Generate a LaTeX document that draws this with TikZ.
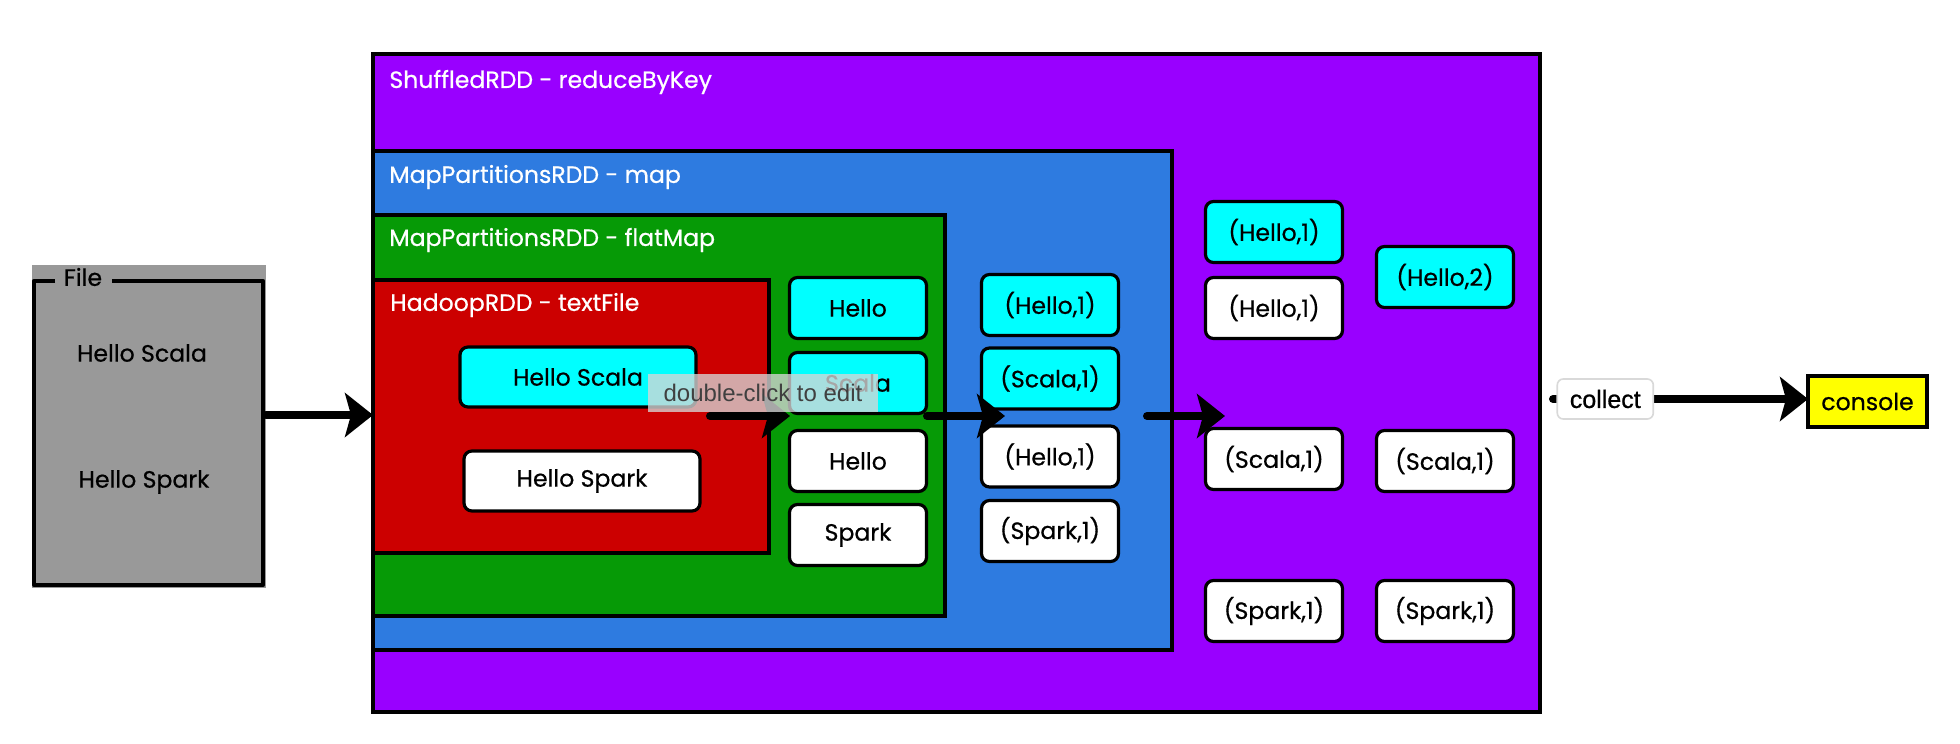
\documentclass[tikz,border=0pt]{standalone}
\usepackage{fontspec}
\setmainfont{Poppins}[UprightFeatures={FakeBold=0.6}]
\newfontfamily\tipfont{Liberation Sans}
\newfontfamily\lblfont{Liberation Sans}[UprightFeatures={FakeBold=0.8}]
\usetikzlibrary{arrows.meta,fit}
\definecolor{purp}{HTML}{9900FF}
\definecolor{blu}{HTML}{2E7BE0}
\definecolor{grn}{HTML}{069A06}
\definecolor{rd}{HTML}{CC0000}
\definecolor{cyn}{HTML}{00FFFF}
\definecolor{filegray}{HTML}{999999}
\definecolor{ylw}{HTML}{FFFF00}
\definecolor{tipgray}{HTML}{D6D6D6}
\definecolor{tiptext}{HTML}{404040}
\begin{document}
\begin{tikzpicture}[x=0.5pt,y=-0.5pt,
  every node/.style={font=\fontsize{11.8pt}{14pt}\selectfont},
  container/.style={draw=black, line width=1.6pt, inner sep=0pt},
  ctitle/.style={text=white, anchor=west, inner sep=0pt},
  cellbox/.style={draw=black, line width=1.6pt, rounded corners=4pt, inner sep=0pt,
    minimum width=68.5pt, minimum height=30.5pt, fill=white},
  widebox/.style={cellbox, minimum width=118pt, minimum height=30pt},
  hot/.style={fill=cyn},
  arrow/.style={line width=4pt, line cap=round, -{Stealth[length=14pt,width=22pt,inset=3pt]}},
  tooltip/.style={fill=tipgray, fill opacity=0.78, text opacity=1, text=tiptext,
    minimum width=115pt, minimum height=19pt, inner sep=0pt,
    font=\tipfont\fontsize{12pt}{14pt}\selectfont},
  lbl/.style={fill=white, draw=black!15, line width=0.8pt, rounded corners=3pt,
    minimum width=48pt, minimum height=20pt, inner sep=0pt,
    font=\lblfont\fontsize{12.5pt}{14pt}\selectfont}
]
\useasboundingbox (0,0) rectangle (1960,744);
\fill[white] (0,0) rectangle (1960,744);

% File box
\coordinate (f1) at (32,265); \coordinate (f2) at (266,588);
\node[fit=(f1)(f2), inner sep=0pt, fill=filegray] (file) {};
\draw[line width=2.2pt, line join=round] (55,281) -- (34,281) -- (34,585) -- (263,585) -- (263,281) -- (112,281);
\node[inner sep=0pt] (filetitle) at (83,277) {File};
\node (fl1) at (142,353) {Hello Scala};
\node (fl2) at (144,482) {Hello Spark};

% Containers
\coordinate (s1) at (373,54);  \coordinate (s2) at (1540,712);
\node[container, fill=purp, fit=(s1)(s2)] (shuffled) {};
\coordinate (b1) at (373,151); \coordinate (b2) at (1172,650);
\node[container, fill=blu, fit=(b1)(b2)] (map) {};
\coordinate (g1) at (373,215); \coordinate (g2) at (945,616);
\node[container, fill=grn, fit=(g1)(g2)] (flatmap) {};
\coordinate (r1) at (373,280); \coordinate (r2) at (769,553);
\node[container, fill=rd, fit=(r1)(r2)] (hadoop) {};

\node[ctitle] (tS) at (389,82)  {ShuffledRDD - reduceByKey};
\node[ctitle] (tM) at (389,177) {MapPartitionsRDD - map};
\node[ctitle] (tF) at (389,240) {MapPartitionsRDD - flatMap};
\node[ctitle] (tH) at (390,305) {HadoopRDD - textFile};

% HadoopRDD cells
\node[widebox, hot] (h1) at (578,377) {Hello Scala};
\node[widebox] (h2) at (582,481) {Hello Spark};

% flatMap cells
\node[cellbox, hot] (fm1) at (858,308) {Hello};
\node[cellbox, hot] (fm2) at (858,383) {Scala};
\node[cellbox] (fm3) at (858,461) {Hello};
\node[cellbox] (fm4) at (858,535) {Spark};

% map cells
\node[cellbox, hot] (m1) at (1050,305) {(Hello,1)};
\node[cellbox, hot] (m2) at (1050,378.5) {(Scala,1)};
\node[cellbox] (m3) at (1050,456.5) {(Hello,1)};
\node[cellbox] (m4) at (1050,531) {(Spark,1)};

% shuffled cells
\node[cellbox, hot] (sa1) at (1274,232) {(Hello,1)};
\node[cellbox] (sa2) at (1274,308) {(Hello,1)};
\node[cellbox] (sa3) at (1274,459) {(Scala,1)};
\node[cellbox] (sa4) at (1274,611) {(Spark,1)};
\node[cellbox, hot] (sb1) at (1445,277) {(Hello,2)};
\node[cellbox] (sb2) at (1445,461) {(Scala,1)};
\node[cellbox] (sb3) at (1445,611) {(Spark,1)};

% console
\node[draw=black, line width=2.2pt, fill=ylw, minimum width=59.5pt, minimum height=25.5pt, inner sep=0pt] (console) at (1867.5,401.5) {console};

% arrows
\coordinate (fileOut) at (266,415);   \coordinate (hadoopIn) at (373,415);
\coordinate (hadoopOut) at (710,416); \coordinate (flatIn) at (790,416);
\coordinate (flatOut) at (927,416);   \coordinate (mapIn) at (1005,416);
\coordinate (mapOut) at (1147,416);   \coordinate (shufIn) at (1225,416);
\coordinate (shufOut) at (1553,399);  \coordinate (conIn) at (1808,399);
\draw[arrow] (fileOut) -- (hadoopIn);
\draw[arrow] (hadoopOut) -- (flatIn);
\draw[arrow] (flatOut) -- (mapIn);
\draw[arrow] (mapOut) -- (shufIn);
\draw[arrow] (shufOut) -- (conIn) node[lbl, pos=0.205] (collect) {collect};

% editor tooltip
\node[tooltip] (tip) at (763,393) {double-click to edit};
\end{tikzpicture}
\end{document}
